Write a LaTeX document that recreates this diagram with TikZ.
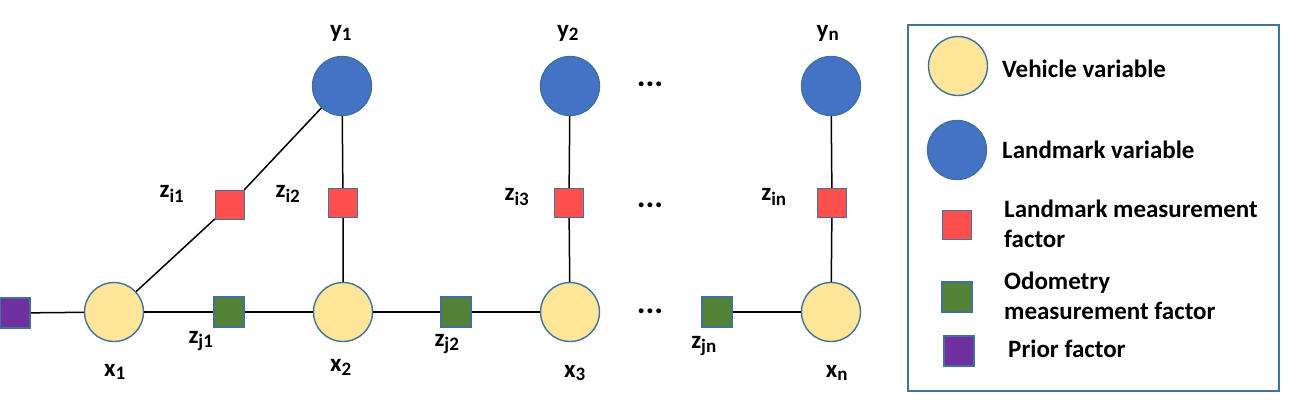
\documentclass[tikz,border=0pt]{standalone}
\usepackage{fontspec}
\setmainfont{Carlito}
\definecolor{vyel}{HTML}{FFE699}
\definecolor{lblue}{HTML}{4472C4}
\definecolor{mred}{HTML}{FF5050}
\definecolor{ogreen}{HTML}{538135}
\definecolor{ppurp}{HTML}{7030A0}
\definecolor{edgeb}{HTML}{41719C}
\tikzset{
  vehicle/.style={circle,draw=edgeb,line width=1.4pt,fill=vyel,minimum size=59pt,inner sep=0pt},
  landmark/.style={circle,draw=edgeb,line width=1.4pt,fill=lblue,minimum size=59pt,inner sep=0pt},
  lmfac/.style={rectangle,draw=edgeb,line width=1.4pt,fill=mred,minimum size=29pt,inner sep=0pt},
  odfac/.style={rectangle,draw=edgeb,line width=1.4pt,fill=ogreen,minimum size=30pt,inner sep=0pt},
  prfac/.style={rectangle,draw=edgeb,line width=1.4pt,fill=ppurp,minimum size=30pt,inner sep=0pt},
  conn/.style={draw=black,line width=1.5pt},
  lbl/.style={font=\fontsize{25}{28}\selectfont\bfseries,inner sep=0pt},
  dots/.style={font=\fontsize{33}{36}\selectfont\bfseries,inner sep=0pt},
  legtxt/.style={font=\fontsize{25}{30}\selectfont\bfseries,inner sep=0pt,anchor=west,align=left},
}
\newcommand{\sub}[2]{#1\textsubscript{\fontsize{19}{22}\selectfont #2}}
\begin{document}
\begin{tikzpicture}[x=1pt,y=-1pt]
\useasboundingbox (0,0) rectangle (1312,402);
% variables
\node[vehicle] (x1) at (114,312) {};
\node[vehicle] (x2) at (343,312) {};
\node[vehicle] (x3) at (570,312) {};
\node[vehicle] (xn) at (831,312) {};
\node[landmark] (y1) at (342,86) {};
\node[landmark] (y2) at (570,86) {};
\node[landmark] (yn) at (831,86) {};
% factors
\node[prfac] (p) at (15,313) {};
\node[odfac] (zj1) at (229,312) {};
\node[odfac] (zj2) at (456,312) {};
\node[odfac] (zjn) at (717,312) {};
\node[lmfac] (zi1) at (230,205) {};
\node[lmfac] (zi2) at (343,203) {};
\node[lmfac] (zi3) at (569,203) {};
\node[lmfac] (zin) at (832,203) {};
% connectors
\draw[conn] (p) -- (x1);
\draw[conn] (x1) -- (zj1) -- (x2) -- (zj2) -- (x3);
\draw[conn] (zjn) -- (xn);
\draw[conn] (x1) -- (zi1) -- (y1);
\draw[conn] (x2) -- (zi2) -- (y1);
\draw[conn] (x3) -- (zi3) -- (y2);
\draw[conn] (xn) -- (zin) -- (yn);
% labels
\node[lbl] (lx1) at (115,372) {\sub{x}{1}};
\node[lbl] (lx2) at (341,367) {\sub{x}{2}};
\node[lbl] (lx3) at (575,373) {\sub{x}{3}};
\node[lbl] (lxn) at (837,373) {\sub{x}{n}};
\node[lbl] (ly1) at (341,33) {\sub{y}{1}};
\node[lbl] (ly2) at (568,33) {\sub{y}{2}};
\node[lbl] (lyn) at (828,33) {\sub{y}{n}};
\node[lbl] (lzi1) at (172,194) {\sub{z}{i1}};
\node[lbl] (lzi2) at (288,194) {\sub{z}{i2}};
\node[lbl] (lzi3) at (517,197) {\sub{z}{i3}};
\node[lbl] (lzin) at (774,197) {\sub{z}{in}};
\node[lbl] (lzj1) at (201,341) {\sub{z}{j1}};
\node[lbl] (lzj2) at (447,344) {\sub{z}{j2}};
\node[lbl] (lzjn) at (704,346) {\sub{z}{jn}};
% dots
\node[dots] (d1) at (650,84) {...};
\node[dots] (d2) at (650,205) {...};
\node[dots] (d3) at (650,311) {...};
% legend
\node[draw=edgeb,line width=1.6pt,minimum width=371pt,minimum height=366pt,inner sep=0pt] (leg) at (1093.5,208) {};
\node[vehicle] (lv) at (958,66) {};
\node[landmark] (ll) at (957,150) {};
\node[lmfac] (lm) at (957,225) {};
\node[odfac] (lo) at (957,297) {};
\node[prfac] (lp) at (959,351) {};
\node[legtxt] (tv) at (1002,69) {Vehicle variable};
\node[legtxt] (tl) at (1002,150) {Landmark variable};
\node[legtxt] (tm) at (1004,224) {Landmark measurement\\factor};
\node[legtxt] (to) at (1004,296) {Odometry\\measurement factor};
\node[legtxt] (tp) at (1008,349) {Prior factor};
\end{tikzpicture}
\end{document}
